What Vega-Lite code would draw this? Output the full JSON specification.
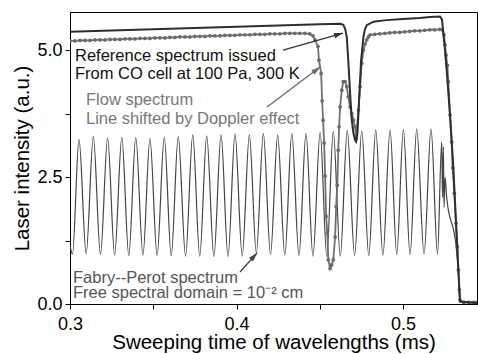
{
  "$schema": "https://vega.github.io/schema/vega-lite/v6.json",
  "width": 407,
  "height": 292,
  "autosize": {"type": "none"},
  "padding": {"left": 70, "top": 12, "right": 1, "bottom": 50},
  "background": "white",
  "config": {
    "font": "Liberation Sans",
    "view": {"stroke": "#000", "strokeWidth": 1},
    "axis": {
      "grid": false, "domainColor": "#000", "tickColor": "#000", "tickSize": 5,
      "labelFont": "Liberation Sans", "labelFontSize": 18, "labelColor": "#000",
      "titleFont": "Liberation Sans", "titleFontSize": 20.5, "titleFontWeight": "normal", "titleColor": "#000"
    }
  },
  "datasets": {
    "fp": [
      {"t": 0.3000, "v": 1.15}, {"t": 0.3015, "v": 0.98}, {"t": 0.3054, "v": 3.24}, {"t": 0.3097, "v": 0.99},
      {"t": 0.3140, "v": 3.30}, {"t": 0.3183, "v": 0.97}, {"t": 0.3226, "v": 3.27}, {"t": 0.3268, "v": 0.96},
      {"t": 0.3311, "v": 3.28}, {"t": 0.3353, "v": 0.95}, {"t": 0.3395, "v": 3.28}, {"t": 0.3438, "v": 0.96},
      {"t": 0.3480, "v": 3.26}, {"t": 0.3523, "v": 0.95}, {"t": 0.3566, "v": 3.28}, {"t": 0.3608, "v": 0.95},
      {"t": 0.3650, "v": 3.30}, {"t": 0.3694, "v": 0.94}, {"t": 0.3737, "v": 3.33}, {"t": 0.3779, "v": 0.94},
      {"t": 0.3821, "v": 3.31}, {"t": 0.3864, "v": 0.93}, {"t": 0.3907, "v": 3.33}, {"t": 0.3949, "v": 0.93},
      {"t": 0.3991, "v": 3.35}, {"t": 0.4034, "v": 0.94}, {"t": 0.4077, "v": 3.33}, {"t": 0.4119, "v": 1.00},
      {"t": 0.4161, "v": 3.36}, {"t": 0.4204, "v": 0.97}, {"t": 0.4247, "v": 3.33}, {"t": 0.4290, "v": 0.96},
      {"t": 0.4332, "v": 3.36}, {"t": 0.4375, "v": 0.95}, {"t": 0.4417, "v": 3.36}, {"t": 0.4459, "v": 0.94},
      {"t": 0.4502, "v": 3.38}, {"t": 0.4542, "v": 0.93}, {"t": 0.4581, "v": 3.40}, {"t": 0.4623, "v": 0.94},
      {"t": 0.4665, "v": 3.42}, {"t": 0.4709, "v": 0.95}, {"t": 0.4752, "v": 3.41}, {"t": 0.4794, "v": 0.95},
      {"t": 0.4836, "v": 3.43}, {"t": 0.4879, "v": 0.96}, {"t": 0.4922, "v": 3.43}, {"t": 0.4962, "v": 0.97},
      {"t": 0.5002, "v": 3.44}, {"t": 0.5042, "v": 0.97}, {"t": 0.5082, "v": 3.45}, {"t": 0.5126, "v": 0.98},
      {"t": 0.5168, "v": 3.45}, {"t": 0.5207, "v": 0.98}, {"t": 0.5232, "v": 3.20}, {"t": 0.5237, "v": 2.10},
      {"t": 0.5242, "v": 3.10}, {"t": 0.5246, "v": 1.90}, {"t": 0.5252, "v": 2.50}, {"t": 0.5262, "v": 2.10},
      {"t": 0.5318, "v": 1.15}, {"t": 0.5333, "v": 0.60}, {"t": 0.5342, "v": 0.04}, {"t": 0.5444, "v": 0.02}
    ],
    "flow": [
      {"t": 0.300, "v": 5.18}, {"t": 0.303, "v": 5.18}, {"t": 0.306, "v": 5.19}, {"t": 0.309, "v": 5.19},
      {"t": 0.312, "v": 5.19}, {"t": 0.315, "v": 5.20}, {"t": 0.318, "v": 5.20}, {"t": 0.321, "v": 5.20},
      {"t": 0.324, "v": 5.21}, {"t": 0.327, "v": 5.21}, {"t": 0.330, "v": 5.21}, {"t": 0.333, "v": 5.22},
      {"t": 0.336, "v": 5.22}, {"t": 0.339, "v": 5.22}, {"t": 0.342, "v": 5.23}, {"t": 0.345, "v": 5.23},
      {"t": 0.348, "v": 5.23}, {"t": 0.351, "v": 5.24}, {"t": 0.354, "v": 5.24}, {"t": 0.357, "v": 5.24},
      {"t": 0.360, "v": 5.25}, {"t": 0.363, "v": 5.25}, {"t": 0.366, "v": 5.26}, {"t": 0.369, "v": 5.26},
      {"t": 0.372, "v": 5.26}, {"t": 0.375, "v": 5.27}, {"t": 0.378, "v": 5.27}, {"t": 0.381, "v": 5.27},
      {"t": 0.384, "v": 5.28}, {"t": 0.387, "v": 5.28}, {"t": 0.390, "v": 5.28}, {"t": 0.393, "v": 5.29},
      {"t": 0.396, "v": 5.29}, {"t": 0.399, "v": 5.29}, {"t": 0.402, "v": 5.30}, {"t": 0.405, "v": 5.30},
      {"t": 0.408, "v": 5.30}, {"t": 0.411, "v": 5.31}, {"t": 0.414, "v": 5.31}, {"t": 0.417, "v": 5.31},
      {"t": 0.420, "v": 5.32}, {"t": 0.423, "v": 5.32}, {"t": 0.426, "v": 5.32}, {"t": 0.429, "v": 5.33},
      {"t": 0.432, "v": 5.33}, {"t": 0.435, "v": 5.33}, {"t": 0.438, "v": 5.33}, {"t": 0.441, "v": 5.33},
      {"t": 0.444, "v": 5.32}, {"t": 0.4459, "v": 5.28}, {"t": 0.4471, "v": 5.20}, {"t": 0.4489, "v": 5.07},
      {"t": 0.4495, "v": 4.80}, {"t": 0.4508, "v": 4.54}, {"t": 0.4514, "v": 4.00}, {"t": 0.4520, "v": 3.62},
      {"t": 0.4526, "v": 3.17}, {"t": 0.4532, "v": 2.52}, {"t": 0.4538, "v": 1.73}, {"t": 0.4545, "v": 1.40},
      {"t": 0.4551, "v": 0.87}, {"t": 0.4562, "v": 0.70}, {"t": 0.4571, "v": 0.77}, {"t": 0.4581, "v": 0.87},
      {"t": 0.4592, "v": 1.32}, {"t": 0.4598, "v": 1.92}, {"t": 0.4605, "v": 2.34}, {"t": 0.4611, "v": 3.03},
      {"t": 0.4616, "v": 3.49}, {"t": 0.4622, "v": 3.88}, {"t": 0.4632, "v": 4.21}, {"t": 0.4641, "v": 4.38},
      {"t": 0.4652, "v": 4.38}, {"t": 0.4662, "v": 4.28}, {"t": 0.4671, "v": 4.08}, {"t": 0.4682, "v": 3.88},
      {"t": 0.4692, "v": 3.75}, {"t": 0.4702, "v": 3.62}, {"t": 0.4712, "v": 3.49}, {"t": 0.4718, "v": 3.26},
      {"t": 0.4732, "v": 3.82}, {"t": 0.4742, "v": 4.28}, {"t": 0.4752, "v": 4.74}, {"t": 0.4762, "v": 5.00},
      {"t": 0.4772, "v": 5.12}, {"t": 0.4782, "v": 5.20}, {"t": 0.4792, "v": 5.26}, {"t": 0.4802, "v": 5.30},
      {"t": 0.483, "v": 5.31}, {"t": 0.486, "v": 5.32}, {"t": 0.489, "v": 5.33}, {"t": 0.492, "v": 5.34},
      {"t": 0.495, "v": 5.35}, {"t": 0.498, "v": 5.35}, {"t": 0.501, "v": 5.36}, {"t": 0.504, "v": 5.37},
      {"t": 0.507, "v": 5.38}, {"t": 0.510, "v": 5.38}, {"t": 0.513, "v": 5.39}, {"t": 0.516, "v": 5.40},
      {"t": 0.519, "v": 5.40}, {"t": 0.522, "v": 5.41}, {"t": 0.5236, "v": 5.40}, {"t": 0.5246, "v": 5.30},
      {"t": 0.5252, "v": 5.10}, {"t": 0.5258, "v": 4.90}, {"t": 0.5266, "v": 4.70}, {"t": 0.5272, "v": 4.38},
      {"t": 0.5282, "v": 3.72}, {"t": 0.5292, "v": 3.19}, {"t": 0.5298, "v": 2.68}, {"t": 0.5308, "v": 2.18},
      {"t": 0.5318, "v": 1.59}, {"t": 0.5326, "v": 1.13}, {"t": 0.5332, "v": 0.67}, {"t": 0.5338, "v": 0.28},
      {"t": 0.5342, "v": 0.08}, {"t": 0.5365, "v": 0.03}, {"t": 0.5395, "v": 0.03}, {"t": 0.5425, "v": 0.03},
      {"t": 0.5444, "v": 0.03}
    ],
    "ref": [
      {"t": 0.300, "v": 5.36}, {"t": 0.330, "v": 5.39}, {"t": 0.360, "v": 5.42}, {"t": 0.390, "v": 5.45},
      {"t": 0.420, "v": 5.48}, {"t": 0.450, "v": 5.51}, {"t": 0.4622, "v": 5.52}, {"t": 0.4641, "v": 5.50},
      {"t": 0.4652, "v": 5.42}, {"t": 0.4662, "v": 5.26}, {"t": 0.4671, "v": 4.80}, {"t": 0.4682, "v": 4.15},
      {"t": 0.4692, "v": 3.62}, {"t": 0.4702, "v": 3.36}, {"t": 0.4712, "v": 3.23}, {"t": 0.4718, "v": 3.20},
      {"t": 0.4726, "v": 3.36}, {"t": 0.4738, "v": 4.15}, {"t": 0.4748, "v": 4.80}, {"t": 0.4762, "v": 5.26},
      {"t": 0.4772, "v": 5.42}, {"t": 0.4782, "v": 5.49}, {"t": 0.4822, "v": 5.56}, {"t": 0.490, "v": 5.59},
      {"t": 0.500, "v": 5.61}, {"t": 0.510, "v": 5.63}, {"t": 0.5162, "v": 5.65}, {"t": 0.5222, "v": 5.66},
      {"t": 0.5234, "v": 5.60}, {"t": 0.5243, "v": 5.30}, {"t": 0.5252, "v": 5.00}, {"t": 0.5262, "v": 4.60},
      {"t": 0.5282, "v": 3.72}, {"t": 0.5302, "v": 2.68}, {"t": 0.5318, "v": 1.60}, {"t": 0.5332, "v": 0.67},
      {"t": 0.5342, "v": 0.05}, {"t": 0.5444, "v": 0.02}
    ],
    "notes": [
      {"id": "ref", "text": "Reference spectrum issued", "t": 0.3030, "v": 4.79},
      {"id": "ref", "text": "From CO cell at 100 Pa, 300 K", "t": 0.3030, "v": 4.43},
      {"id": "flow", "text": "Flow spectrum", "t": 0.3096, "v": 3.92},
      {"id": "flow", "text": "Line shifted by Doppler effect", "t": 0.3096, "v": 3.55},
      {"id": "fp", "text": "Fabry--Perot spectrum", "t": 0.3018, "v": 0.42},
      {"id": "fp", "text": "Free spectral domain = 10⁻² cm", "t": 0.3018, "v": 0.11}
    ],
    "arrows": [
      {"id": "ref", "t": 0.4279, "v": 5.00, "t2": 0.4640, "v2": 5.335},
      {"id": "flow", "t": 0.4183, "v": 3.878, "t2": 0.4502, "v2": 4.665},
      {"id": "fp", "t": 0.4021, "v": 0.63, "t2": 0.4123, "v2": 1.004}
    ]
  },
  "encoding": {
    "x": {
      "field": "t", "type": "quantitative",
      "scale": {"domain": [0.3, 0.5444], "nice": false, "zero": false},
      "axis": {
        "title": "Sweeping time of wavelengths (ms)",
        "values": [0.3, 0.35, 0.4, 0.45, 0.5],
        "labelExpr": "abs(round(datum.value*20)) % 2 == 0 ? format(datum.value, '.1f') : ''",
        "labelPadding": 6, "titlePadding": -1, "labelFlush": false, "labelOverlap": false
      }
    },
    "y": {
      "field": "v", "type": "quantitative",
      "scale": {"domain": [0, 5.75], "nice": false},
      "axis": {
        "title": "Laser intensity (a.u.)",
        "values": [0, 1.25, 2.5, 3.75, 5.0],
        "labelExpr": "abs(round(datum.value*0.8)) % 2 == 0 ? format(datum.value, '.1f') : ''",
        "labelPadding": 3, "titlePadding": 4, "labelFlush": false, "labelOverlap": false
      }
    }
  },
  "layer": [
    {"data": {"name": "fp"}, "mark": {"type": "line", "interpolate": "monotone", "color": "#444444", "strokeWidth": 1.2, "clip": true}},
    {"data": {"name": "flow"}, "mark": {"type": "line", "color": "#707070", "strokeWidth": 1.8, "clip": true}},
    {"data": {"name": "flow"}, "mark": {"type": "point", "filled": true, "color": "#6a6a6a", "size": 14, "opacity": 1, "clip": true}},
    {"data": {"name": "ref"}, "mark": {"type": "line", "color": "#2e2e2e", "strokeWidth": 2, "clip": true}},
    {"data": {"name": "arrows"}, "transform": [{"filter": "datum.id == 'ref'"}],
     "mark": {"type": "rule", "color": "#333333", "strokeWidth": 1.3},
     "encoding": {"x2": {"field": "t2"}, "y2": {"field": "v2"}}},
    {"data": {"name": "arrows"}, "transform": [{"filter": "datum.id == 'ref'"}],
     "mark": {"type": "point", "shape": "M0,0L0.55,1.8L-0.55,1.8Z", "filled": true, "size": 100, "angle": 74, "color": "#333333", "opacity": 1, "strokeWidth": 0},
     "encoding": {"x": {"field": "t2", "type": "quantitative"}, "y": {"field": "v2", "type": "quantitative"}}},
    {"data": {"name": "arrows"}, "transform": [{"filter": "datum.id == 'flow'"}],
     "mark": {"type": "rule", "color": "#6a6a6a", "strokeWidth": 1.3},
     "encoding": {"x2": {"field": "t2"}, "y2": {"field": "v2"}}},
    {"data": {"name": "arrows"}, "transform": [{"filter": "datum.id == 'flow'"}],
     "mark": {"type": "point", "shape": "M0,0L0.55,1.8L-0.55,1.8Z", "filled": true, "size": 100, "angle": 53, "color": "#6a6a6a", "opacity": 1, "strokeWidth": 0},
     "encoding": {"x": {"field": "t2", "type": "quantitative"}, "y": {"field": "v2", "type": "quantitative"}}},
    {"data": {"name": "arrows"}, "transform": [{"filter": "datum.id == 'fp'"}],
     "mark": {"type": "rule", "color": "#444444", "strokeWidth": 1.3},
     "encoding": {"x2": {"field": "t2"}, "y2": {"field": "v2"}}},
    {"data": {"name": "arrows"}, "transform": [{"filter": "datum.id == 'fp'"}],
     "mark": {"type": "point", "shape": "M0,0L0.55,1.8L-0.55,1.8Z", "filled": true, "size": 100, "angle": 42, "color": "#444444", "opacity": 1, "strokeWidth": 0},
     "encoding": {"x": {"field": "t2", "type": "quantitative"}, "y": {"field": "v2", "type": "quantitative"}}},
    {"data": {"name": "notes"}, "transform": [{"filter": "datum.id == 'ref'"}],
     "mark": {"type": "text", "align": "left", "baseline": "alphabetic", "fontSize": 16.5, "color": "#111111"},
     "encoding": {"text": {"field": "text"}}},
    {"data": {"name": "notes"}, "transform": [{"filter": "datum.id == 'flow'"}],
     "mark": {"type": "text", "align": "left", "baseline": "alphabetic", "fontSize": 16.5, "color": "#777777"},
     "encoding": {"text": {"field": "text"}}},
    {"data": {"name": "notes"}, "transform": [{"filter": "datum.id == 'fp'"}],
     "mark": {"type": "text", "align": "left", "baseline": "alphabetic", "fontSize": 16.5, "color": "#555555"},
     "encoding": {"text": {"field": "text"}}}
  ]
}
